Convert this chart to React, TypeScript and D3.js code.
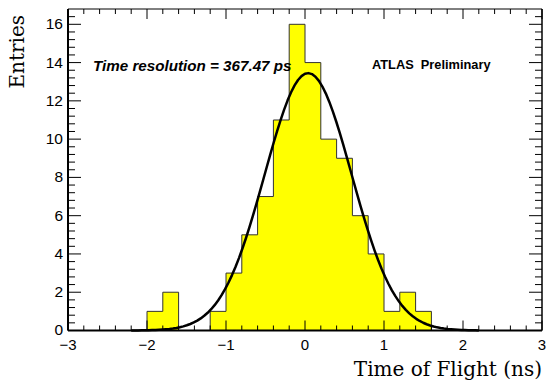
import React from "react";
import * as d3 from "d3";

// Histogram: bin lower edges (width 0.2 ns) and entries
const binEdges = [-2.0, -1.8, -1.6, -1.4, -1.2, -1.0, -0.8, -0.6, -0.4, -0.2, 0.0, 0.2, 0.4, 0.6, 0.8, 1.0, 1.2, 1.4];
const binCounts = [1, 2, 0, 0, 1, 3, 5, 7, 11, 16, 14, 10, 9, 6, 4, 1, 2, 1];
const binWidth = 0.2;

// Gaussian fit parameters
const fitConstant = 13.45;
const fitMean = 0.04;
const fitSigma = 0.55;
const fitRange = [-2.2, 2.2];

const xTicks = [-3, -2, -1, 0, 1, 2, 3];
const yTicks = [0, 2, 4, 6, 8, 10, 12, 14, 16];

const W = 548, H = 383;
const L = 68, R = 542, T = 9, B = 330.5;

export default function App() {
  const x = d3.scaleLinear().domain([-3, 3]).range([L, R]);
  const y = d3.scaleLinear().domain([0, 16.8]).range([B, T]);

  // step contour
  const pts: [number, number][] = [];
  pts.push([x(binEdges[0]), y(0)]);
  binEdges.forEach((e, i) => {
    pts.push([x(e), y(binCounts[i])]);
    pts.push([x(e + binWidth), y(binCounts[i])]);
  });
  pts.push([x(binEdges[binEdges.length - 1] + binWidth), y(0)]);
  const histPath = d3.line()(pts) + "Z";

  const n = 100;
  const curvePts: [number, number][] = d3.range(n + 1).map((i) => {
    const xv = fitRange[0] + ((fitRange[1] - fitRange[0]) * i) / n;
    const yv = fitConstant * Math.exp(-((xv - fitMean) ** 2) / (2 * fitSigma * fitSigma));
    return [x(xv), y(yv)];
  });
  const curvePath = d3.line().curve(d3.curveLinear)(curvePts) || "";

  const xMinor = d3.range(-3, 3.0001, 0.2).map((v) => Math.round(v * 10) / 10);
  const yMinor = d3.range(0, 16.8, 0.4).map((v) => Math.round(v * 10) / 10);

  const sans = "Liberation Sans, Arial, Helvetica, sans-serif";
  const serif = "DejaVu Serif, serif";

  return (
    <svg width={W} height={H} style={{ position: "absolute", left: 0, top: 0, background: "#fff" }}>
      <rect x={0} y={0} width={W} height={H} fill="#fff" />
      <path d={histPath} fill="#ffff00" stroke="#333" strokeWidth={1} />
      <path d={curvePath} fill="none" stroke="#000" strokeWidth={2.5} strokeLinejoin="round" />

      {/* frame */}
      <line x1={L} x2={R} y1={T} y2={T} stroke="#000" strokeWidth={1} />
      <line x1={R} x2={R} y1={T} y2={B} stroke="#000" strokeWidth={1.5} />
      <line x1={L} x2={L} y1={T} y2={B} stroke="#000" strokeWidth={2} />
      <line x1={L} x2={R} y1={B} y2={B} stroke="#000" strokeWidth={2} />

      {/* x ticks */}
      {xMinor.map((v) => {
        const major = Number.isInteger(v);
        const len = major ? 10 : 5;
        return (
          <g key={"xt" + v}>
            <line x1={x(v)} x2={x(v)} y1={B} y2={B - len} stroke="#000" strokeWidth={1} />
            <line x1={x(v)} x2={x(v)} y1={T} y2={T + len} stroke="#000" strokeWidth={1} />
          </g>
        );
      })}
      {/* y ticks */}
      {yMinor.map((v) => {
        const major = Math.abs(v / 2 - Math.round(v / 2)) < 1e-6;
        const len = major ? 13 : 7;
        return (
          <g key={"yt" + v}>
            <line x1={L} x2={L + len} y1={y(v)} y2={y(v)} stroke="#000" strokeWidth={1} />
            <line x1={R} x2={R - len} y1={y(v)} y2={y(v)} stroke="#000" strokeWidth={1} />
          </g>
        );
      })}

      {xTicks.map((v) => (
        <text key={"xl" + v} x={x(v)} y={349.5} textAnchor="middle" fontFamily={sans} fontSize={15} fill="#000">
          {v < 0 ? "\u2212" + Math.abs(v) : String(v)}
        </text>
      ))}
      {yTicks.map((v) => (
        <text key={"yl" + v} x={63} y={y(v)} dy="0.32em" textAnchor="end" fontFamily={sans} fontSize={15.5} fill="#000">
          {v}
        </text>
      ))}

      <text x={542} y={376} textAnchor="end" fontFamily={serif} fontSize={20} fill="#000">
        Time of Flight (ns)
      </text>
      <text transform={`translate(24,15) rotate(-90)`} textAnchor="end" fontFamily={serif} fontSize={20} fill="#000">
        Entries
      </text>

      <text x={93} y={70.5} fontFamily={sans} fontSize={15.2} fontWeight="bold" fontStyle="italic" fill="#000">
        Time resolution = 367.47 ps
      </text>
      <text x={372} y={68.5} fontFamily={sans} fontSize={12.8} fontWeight="bold" fill="#000" style={{ whiteSpace: "pre" }}>
        {"ATLAS  Preliminary"}
      </text>
    </svg>
  );
}
